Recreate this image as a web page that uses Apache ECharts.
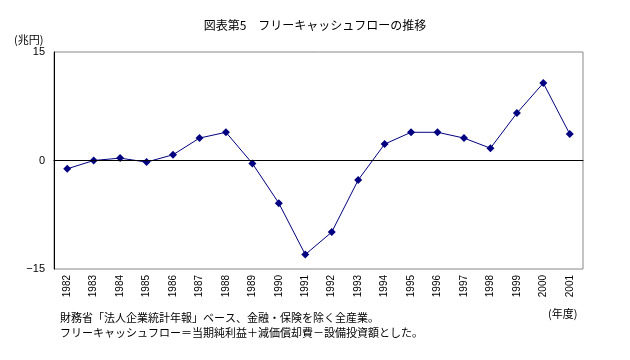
<!DOCTYPE html>
<html><head><meta charset="utf-8">
<script src="https://cdn.jsdelivr.net/npm/echarts@6/dist/echarts.min.js"></script>
<style>html,body{margin:0;padding:0;background:#fff}#c{width:630px;height:360px}</style>
</head><body><div id="c"></div>
<script>
const years = ['1982','1983','1984','1985','1986','1987','1988','1989','1990','1991','1992','1993','1994','1995','1996','1997','1998','1999','2000','2001'];
const freeCashFlow = [-1.15,0.0,0.33,-0.22,0.79,3.1,3.9,-0.41,-5.9,-13.0,-9.9,-2.7,2.27,3.9,3.9,3.1,1.7,6.55,10.7,3.65];
const yTicks = [-15,0,15];
const title = '図表第5　フリーキャッシュフローの推移';
const unitLabel = '(兆円)';
const xUnitLabel = '(年度)';
const notes = ['財務省「法人企業統計年報」ベース、金融・保険を除く全産業。','フリーキャッシュフロー＝当期純利益＋減価償却費－設備投資額とした。'];
const F = '"Noto Sans CJK JP", sans-serif';
const chart = echarts.init(document.getElementById('c'));
chart.setOption({
  animation:false,
  backgroundColor:'#fff',
  title:{text:title,left:'center',top:14,textStyle:{fontFamily:F,fontSize:12,fontWeight:'normal',color:'#000'}},
  grid:{left:54,right:47,top:52,bottom:91,show:true,borderColor:'#888',borderWidth:1,backgroundColor:'transparent'},
  xAxis:{type:'category',data:years,boundaryGap:true,
    axisLine:{lineStyle:{color:'#000',width:1}},
    axisTick:{inside:true,length:3,lineStyle:{color:'#000'}},
    axisLabel:{rotate:90,fontFamily:'Arial, "Liberation Sans", sans-serif',fontSize:10,color:'#000',margin:6}},
  yAxis:{type:'value',min:yTicks[0],max:yTicks[2],interval:15,
    axisLine:{show:true,lineStyle:{color:'#000',width:1}},
    axisTick:{show:false},splitLine:{show:false},
    axisLabel:{fontFamily:'Arial, "Liberation Sans", sans-serif',fontSize:11,color:'#000',margin:9,
      formatter:v=>v<0?'−'+Math.abs(v):String(v)}},
  series:[{type:'line',data:freeCashFlow,symbol:'diamond',symbolSize:8,
    lineStyle:{color:'#000080',width:1},itemStyle:{color:'#000080'},
    markLine:{silent:true,symbol:'none',label:{show:false},lineStyle:{color:'#000',width:1,type:'solid'},data:[{yAxis:0}]}}],
  graphic:[
    {type:'text',left:14,top:34,style:{text:unitLabel,font:'11px '+F,fill:'#000'}},
    {type:'text',left:548,top:308,style:{text:xUnitLabel,font:'11px '+F,fill:'#000'}},
    {type:'text',left:60,top:312,style:{text:notes[0],font:'11px '+F,fill:'#000'}},
    {type:'text',left:60,top:327,style:{text:notes[1],font:'11px '+F,fill:'#000'}}
  ]
});
</script></body></html>
